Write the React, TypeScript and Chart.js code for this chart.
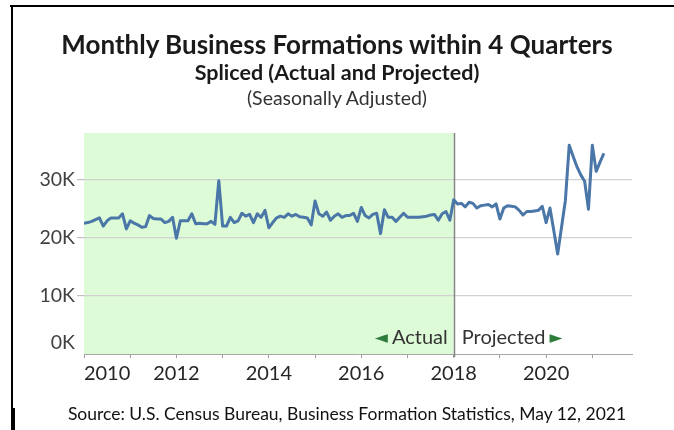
import React, { useEffect, useRef } from "react";
import { Chart, registerables } from "chart.js";

Chart.register(...registerables);

// Monthly series, Jan 2010 .. Apr 2021 (thousands of business formations)
const startYear = 2010;
const formations = [
  22.5, 22.6, 22.8, 23.1, 23.4, 22.0, 22.9, 23.4, 23.4, 23.4, 24.1, 21.5,
  22.9, 22.5, 22.2, 21.8, 21.9, 23.8, 23.3, 23.2, 23.2, 22.6, 22.8, 23.5,
  19.9, 22.9, 22.9, 22.9, 24.1, 22.4, 22.5, 22.4, 22.4, 22.8, 22.3, 29.8,
  22.0, 22.0, 23.5, 22.6, 22.9, 24.2, 23.7, 24.0, 22.6, 24.1, 23.5, 24.7,
  21.7, 22.6, 23.4, 23.7, 23.5, 24.1, 23.7, 24.0, 23.6, 23.5, 23.4, 22.2,
  26.3, 24.1, 23.7, 24.4, 23.0, 23.7, 24.1, 23.5, 23.8, 23.8, 24.2, 22.8,
  25.2, 23.8, 23.4, 24.0, 24.2, 20.7, 24.8, 23.5, 23.5, 22.8, 23.5, 24.2,
  23.5, 23.5, 23.5, 23.5, 23.6, 23.7, 23.9, 24.0, 23.0, 24.1, 24.5, 23.0,
  26.5, 25.8, 25.9, 25.3, 26.1, 25.9, 25.1, 25.5, 25.6, 25.7, 25.3, 25.8,
  23.2, 25.1, 25.5, 25.4, 25.3, 24.7, 23.9, 24.5, 24.5, 24.6, 24.7, 25.4,
  22.6, 25.1, 21.2, 17.2, 21.8, 26.4, 35.9, 34.0, 32.2, 30.8, 29.7, 24.9,
  35.9, 31.4, 33.0, 34.5,
];
const yearTicks = [2010, 2011, 2012, 2013, 2014, 2015, 2016, 2017, 2018, 2019, 2020, 2021];
const yearLabels = ["2010", "2012", "2014", "2016", "2018", "2020"];
const yTickValues = [0, 10000, 20000, 30000];
const projectedFromYear = 2018;

const titleText = "Monthly Business Formations within 4 Quarters";
const subtitleText = "Spliced (Actual and Projected)";
const noteText = "(Seasonally Adjusted)";
const sourceText = "Source: U.S. Census Bureau, Business Formation Statistics, May 12, 2021";
const actualText = "Actual";
const projectedText = "Projected";

const FONT = "Lato, 'Liberation Sans', sans-serif";
const FIRST_LABEL_SHIFT = 6; // first year label is pushed inward, as in the source

export default function App() {
  const ref = useRef<HTMLCanvasElement | null>(null);

  useEffect(() => {
    const canvas = ref.current;
    if (!canvas) return;

    const points = formations.map((v, i) => ({ x: i, y: v * 1000 }));
    const splitX = (projectedFromYear - startYear) * 12;

    const labelAt = new Map<number, string>();
    yearLabels.forEach((l, i) => {
      const m = (Number(l) - startYear) * 12;
      labelAt.set(i === 0 ? m + FIRST_LABEL_SHIFT : m, l);
    });
    const tickVals = new Set<number>(yearTicks.map((y) => (y - startYear) * 12));
    labelAt.forEach((_, k) => tickVals.add(k));
    const sortedTicks = Array.from(tickVals).sort((a, b) => a - b);
    const yearMarkSet = new Set<number>(yearTicks.map((y) => (y - startYear) * 12));

    const regionPlugin = {
      id: "regions",
      beforeDraw(chart: any) {
        const { ctx, chartArea, scales } = chart;
        const xs = scales.x.getPixelForValue(splitX);
        ctx.save();
        ctx.fillStyle = "rgb(220,251,214)";
        ctx.fillRect(chartArea.left, chartArea.top, xs - chartArea.left, chartArea.bottom - chartArea.top);
        ctx.restore();
      },
      beforeDatasetsDraw(chart: any) {
        const { ctx, chartArea, scales } = chart;
        const xs = Math.round(scales.x.getPixelForValue(splitX)) + 0.5;
        ctx.save();
        ctx.strokeStyle = "#858585";
        ctx.lineWidth = 1.5;
        ctx.beginPath();
        ctx.moveTo(xs, chartArea.top);
        ctx.lineTo(xs, chartArea.bottom + 3);
        ctx.stroke();
        ctx.restore();
      },
      afterDatasetsDraw(chart: any) {
        const { ctx, chartArea, scales } = chart;
        const xs = scales.x.getPixelForValue(splitX);
        const y = chartArea.bottom - 16;
        ctx.save();
        ctx.textBaseline = "middle";
        ctx.font = `20px ${FONT}`;
        ctx.fillStyle = "#333333";
        ctx.textAlign = "right";
        const aRight = xs - 6;
        ctx.fillText(actualText, aRight, y);
        const aw = ctx.measureText(actualText).width;
        ctx.font = `17px 'DejaVu Sans', sans-serif`;
        ctx.fillStyle = "#2e7d3c";
        ctx.fillText("\u25C4", aRight - aw - 4, y + 1);
        ctx.font = `20px ${FONT}`;
        ctx.fillStyle = "#333333";
        ctx.textAlign = "left";
        const pLeft = xs + 8;
        ctx.fillText(projectedText, pLeft, y);
        const pw = ctx.measureText(projectedText).width;
        ctx.font = `17px 'DejaVu Sans', sans-serif`;
        ctx.fillStyle = "#2e7d3c";
        ctx.fillText("\u25BA", pLeft + pw + 4, y + 1);
        ctx.restore();
      },
    };

    const chart = new Chart(canvas, {
      type: "line",
      data: {
        datasets: [
          {
            data: points,
            borderColor: "#4a76a8",
            borderWidth: 3,
            pointRadius: 0,
            tension: 0,
            borderJoinStyle: "round",
            fill: false,
          },
        ],
      },
      options: {
        animation: false,
        responsive: false,
        devicePixelRatio: 1,
        layout: { padding: { left: 0, top: 133, right: 42, bottom: 0 } },
        plugins: { legend: { display: false }, tooltip: { enabled: false }, title: { display: false } },
        scales: {
          x: {
            type: "linear",
            min: 0,
            max: 142.3,
            afterBuildTicks: (scale: any) => {
              scale.ticks = sortedTicks.map((v) => ({ value: v }));
            },
            afterFit: (scale: any) => {
              scale.height = 76;
            },
            ticks: {
              autoSkip: false,
              maxRotation: 0,
              padding: 4,
              color: "#262626",
              font: { family: FONT, size: 20 },
              callback: (v: any) => labelAt.get(Number(v)) ?? "",
            },
            grid: {
              drawOnChartArea: false,
              drawTicks: true,
              tickLength: 4,
              tickColor: (ctx: any) => (yearMarkSet.has(ctx.tick?.value) ? "#a0a0a0" : "rgba(0,0,0,0)"),
            },
            border: { display: true, color: "#a8a8a8", width: 1, dash: [1, 2] },
          },
          y: {
            type: "linear",
            min: 0,
            max: 38000,
            afterBuildTicks: (scale: any) => {
              scale.ticks = yTickValues.map((v) => ({ value: v }));
            },
            afterFit: (scale: any) => {
              scale.width = 84;
            },
            ticks: {
              padding: 2,
              color: "#404040",
              font: { family: FONT, size: 19.5, lineHeight: 1.15 },
              // the zero label sits a little above the axis line in the source
              callback: (v: any) => (Number(v) === 0 ? ["0K", ""] : `${Number(v) / 1000}K`),
            },
            grid: {
              color: (ctx: any) => (ctx.tick?.value === 0 ? "rgba(0,0,0,0)" : "#d2d2d2"),
              tickColor: (ctx: any) => (ctx.tick?.value === 0 ? "rgba(0,0,0,0)" : "#c0c0c0"),
              tickLength: 7,
              lineWidth: 1.2,
            },
            border: { display: false },
          },
        },
      },
      plugins: [regionPlugin],
    } as any);

    return () => chart.destroy();
  }, []);

  const textBase: React.CSSProperties = {
    position: "absolute",
    left: 0,
    width: 674,
    textAlign: "center",
    fontFamily: FONT,
    whiteSpace: "nowrap",
  };

  return (
    <div style={{ position: "fixed", left: 0, top: 0, width: 674, height: 430, background: "#fff", overflow: "hidden" }}>
      <canvas ref={ref} width={674} height={430} style={{ position: "absolute", left: 0, top: 0, width: 674, height: 430 }} />
      <div style={{ ...textBase, top: 29, lineHeight: "30px", fontSize: 26, fontWeight: 700, color: "#1a1a1a" }}>{titleText}</div>
      <div style={{ ...textBase, top: 60, lineHeight: "24px", fontSize: 21.5, fontWeight: 700, color: "#1a1a1a" }}>{subtitleText}</div>
      <div style={{ ...textBase, top: 87, lineHeight: "22px", fontSize: 19.5, fontWeight: 400, color: "#333" }}>{noteText}</div>
      <div style={{ ...textBase, left: 10, top: 403, lineHeight: "22px", fontSize: 17.5, fontWeight: 400, color: "#111" }}>{sourceText}</div>
      <div style={{ position: "absolute", left: 10, top: 5, width: 664, height: 2, background: "#000", zIndex: 2 }} />
      <div style={{ position: "absolute", left: 11, top: 5, width: 2, height: 425, background: "#000", zIndex: 2 }} />
      <div style={{ position: "absolute", left: 11, top: 408, width: 4, height: 22, background: "#000", zIndex: 2 }} />
    </div>
  );
}
